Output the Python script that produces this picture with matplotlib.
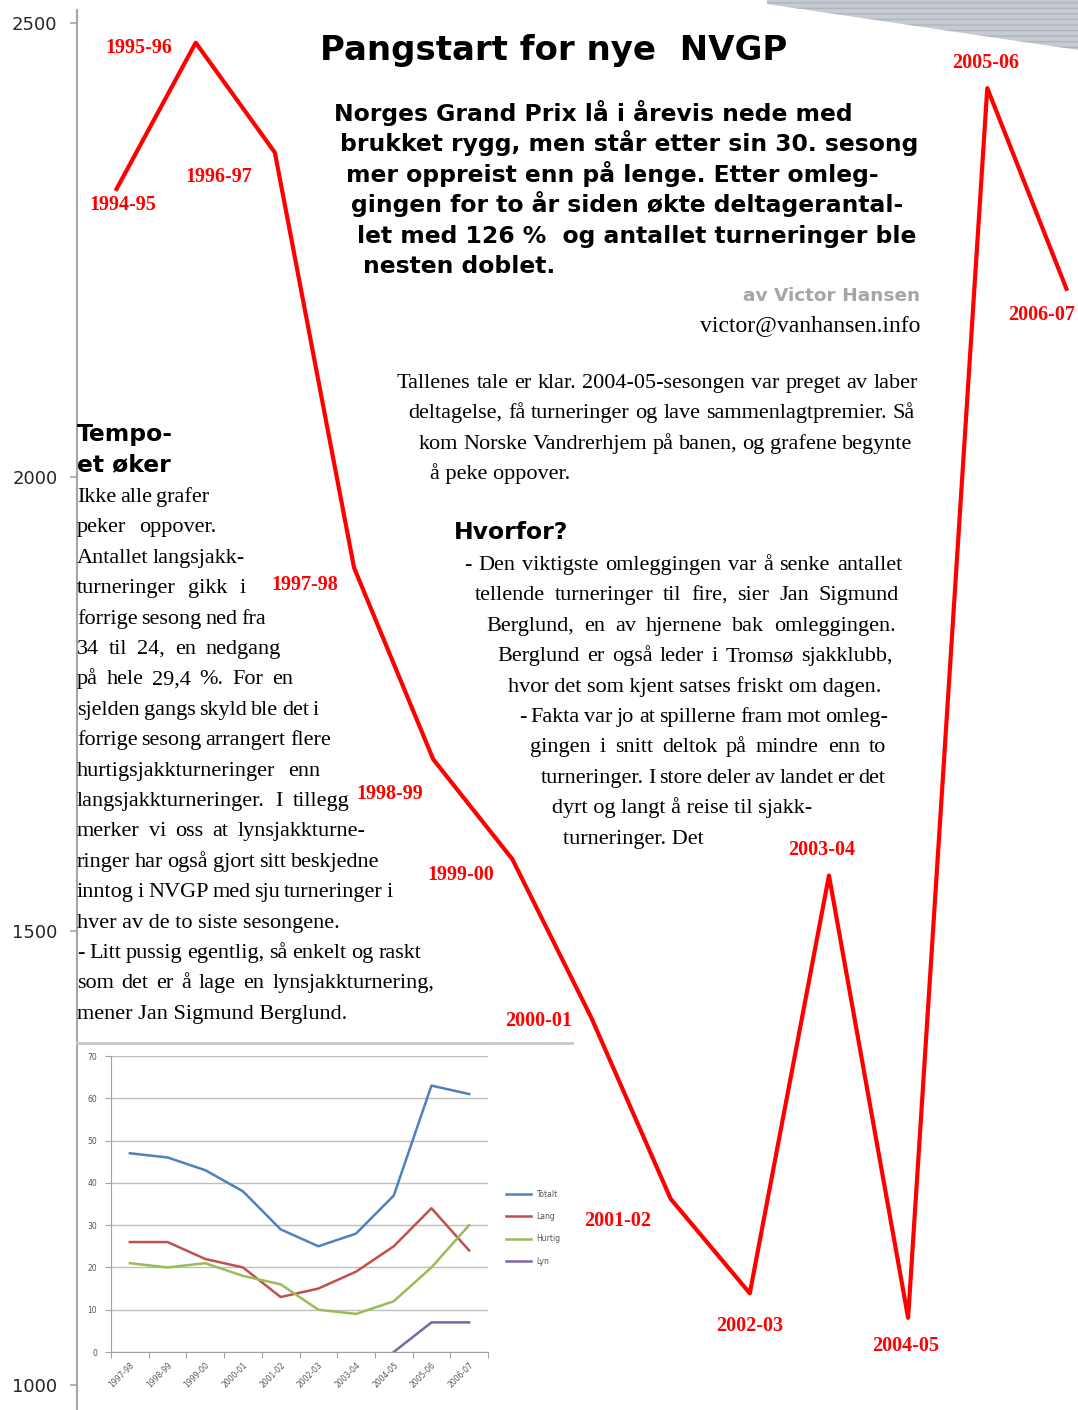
import numpy as np
import matplotlib
matplotlib.use("Agg")
import matplotlib.pyplot as plt
from matplotlib.patches import Polygon
from matplotlib.lines import Line2D

# ---------------------------------------------------------------------------
# Main series: participants in Norges Grand Prix per season
# ---------------------------------------------------------------------------
seasons = ["1994-95", "1995-96", "1996-97", "1997-98", "1998-99", "1999-00",
           "2000-01", "2001-02", "2002-03", "2003-04", "2004-05", "2005-06",
           "2006-07"]
participants = [2317, 2478, 2357, 1900, 1689, 1579, 1404, 1205, 1101, 1561,
                1074, 2428, 2207]
y_ticks = [1000, 1500, 2000, 2500]

# ---------------------------------------------------------------------------
# Inset: number of tournaments per season, by time control
# ---------------------------------------------------------------------------
inset_seasons = ["1997-98", "1998-99", "1999-00", "2000-01", "2001-02",
                 "2002-03", "2003-04", "2004-05", "2005-06", "2006-07"]
totalt = [47, 46, 43, 38, 29, 25, 28, 37, 63, 61]
lang = [26, 26, 22, 20, 13, 15, 19, 25, 34, 24]
hurtig = [21, 20, 21, 18, 16, 10, 9, 12, 20, 30]
lyn = [np.nan] * 7 + [0, 7, 7]
inset_names = ["Totalt", "Lang", "Hurtig", "Lyn"]
inset_ticks = [0, 10, 20, 30, 40, 50, 60, 70]

# ---------------------------------------------------------------------------
# Article text
# ---------------------------------------------------------------------------
title = "Pangstart for nye  NVGP"
ingress = [
    "Norges Grand Prix lå i årevis nede med",
    "brukket rygg, men står etter sin 30. sesong",
    "mer oppreist enn på lenge. Etter omleg-",
    "gingen for to år siden økte deltagerantal-",
    "let med 126 %  og antallet turneringer ble",
    "nesten doblet.",
]
byline = "av Victor Hansen"
email = "victor@vanhansen.info"
intro = [
    "Tallenes tale er klar. 2004-05-sesongen var preget av laber",
    "deltagelse, få turneringer og lave sammenlagtpremier. Så",
    "kom Norske Vandrerhjem på banen, og grafene begynte",
    "å peke oppover.",
]
why_head = "Hvorfor?"
why = [
    "- Den viktigste omleggingen var å senke antallet",
    "tellende turneringer til fire, sier Jan Sigmund",
    "Berglund, en av hjernene bak omleggingen.",
    "Berglund er også leder i Tromsø sjakklubb,",
    "hvor det som kjent satses friskt om dagen.",
    "- Fakta var jo at spillerne fram mot omleg-",
    "gingen i snitt deltok på mindre enn to",
    "turneringer. I store deler av landet er det",
    "dyrt og langt å reise til sjakk-",
    "turneringer. Det",
]
side_head = ["Tempo-", "et øker"]
side = [
    "Ikke alle grafer",
    "peker  oppover.",
    "Antallet langsjakk-",
    "turneringer gikk i",
    "forrige sesong ned fra",
    "34 til 24, en nedgang",
    "på hele 29,4 %. For en",
    "sjelden gangs skyld ble det i",
    "forrige sesong arrangert flere",
    "hurtigsjakkturneringer enn",
    "langsjakkturneringer. I tillegg",
    "merker vi oss at lynsjakkturne-",
    "ringer har også gjort sitt beskjedne",
    "inntog i NVGP med sju turneringer i",
    "hver av de to siste sesongene.",
    "- Litt pussig egentlig, så enkelt og raskt",
    "som det er å lage en lynsjakkturnering,",
    "mener Jan Sigmund Berglund.",
]

# right edges (pixels) of justified lines; None = ragged last line
intro_right = [918, 915, 912, None]
why_right = [902, 899, 896, 893, None, 888, 886, 883, None, None]
side_right = [208, 222, 237, 252, 264, 281, 293, 307, 322, 336, 350, 365,
              379, 392, None, 421, 434, None]

# label offsets (pixels) from each season's point
label_offsets = [(6, -16), (-57, -5), (-56, -24), (-49, -17), (-43, -35),
                 (-52, -16), (-53, -3), (-53, -22), (0, -33), (-7, 26),
                 (-2, -28), (-2, 25), (-25, -26)]

W, H = 1078, 1410
SERIF = "Liberation Serif"
HEAVY = "DejaVu Sans"
BODY = dict(fontsize=16, family=SERIF, color="black")


def px(x, y):
    """Pixel position (from top-left) -> figure fraction."""
    return x / W, 1 - y / H


fig = plt.figure(figsize=(W / 100, H / 100), dpi=100)
fig.patch.set_facecolor("white")
renderer = fig.canvas.get_renderer()


def text_width(s, **kw):
    t = fig.text(0, 0, s, **kw)
    w = t.get_window_extent(renderer).width
    t.remove()
    return w


def set_line(line, x0, x1, y, **kw):
    """Draw one line of body text, spreading words towards x1 if given.

    Word gaps are kept between 0.7 and 2.2 normal spaces so a line never
    collapses or falls apart when the font runs wider than the column.
    """
    words = line.split()
    if x1 is None or len(words) < 2:
        fig.text(*px(x0, y), line, ha="left", va="baseline", **kw)
        return
    space = text_width("a a", **kw) - text_width("aa", **kw)
    widths = [text_width(w, **kw) for w in words]
    gap = (x1 - x0 - sum(widths)) / (len(words) - 1)
    gap = min(max(gap, 0.7 * space), 2.2 * space)
    xpos = x0
    for w, wd in zip(words, widths):
        fig.text(*px(xpos, y), w, ha="left", va="baseline", **kw)
        xpos += wd + gap


# ---- main participant line ----
ax = fig.add_axes([77 / W, 0, (1106 - 77) / W, (H - 10) / H])
x = np.arange(len(seasons))
ax.plot(x, participants, color="#ff0000", lw=3.0, zorder=3)
ax.set_xlim(-0.5, 12.5)
ax.set_ylim(972.5, 2514)
ax.set_yticks(y_ticks)
ax.set_xticks([])
for side_name in ("top", "right", "bottom"):
    ax.spines[side_name].set_visible(False)
ax.spines["left"].set_color("#a6a6a6")
ax.spines["left"].set_linewidth(1.5)
ax.tick_params(axis="y", length=5, width=1.2, color="#a6a6a6",
               labelsize=13, labelcolor="#262626", pad=9)
ax.patch.set_alpha(0)

for xi, val, lab, off in zip(x, participants, seasons, label_offsets):
    ax.annotate(lab, (xi, val), xytext=off, textcoords="offset pixels",
                ha="center", va="center", color="#ff0000", fontsize=14.5,
                fontweight="bold", family=SERIF, zorder=4,
                annotation_clip=False)

# ---- scanned paper corner, top right ----
paper = Polygon([px(767, 0), px(1078, 0), px(1078, 50), px(767, 4)],
                closed=True, transform=fig.transFigure,
                facecolor="#c6cad1", edgecolor="#b0b5bd", hatch="---",
                linewidth=0, zorder=1)
fig.add_artist(paper)

# ---- headline and ingress ----
fig.text(*px(320, 60), title, ha="left", va="baseline", fontsize=24.5,
         fontweight="bold", family=HEAVY)
for k, line in enumerate(ingress):
    fig.text(*px(334 + 5.8 * k, 121 + 30.4 * k), line, ha="left",
             va="baseline", fontsize=16.9, fontweight="bold", family=HEAVY)
fig.text(*px(920, 301), byline, ha="right", va="baseline", fontsize=13.3,
         fontweight="bold", family=HEAVY, color="#a6a6a6")
fig.text(*px(920, 331), email, ha="right", va="baseline", fontsize=17,
         family=SERIF)

for k, (line, right) in enumerate(zip(intro, intro_right)):
    set_line(line, 397 + 11 * k, right, 388 + 30.4 * k, **BODY)

fig.text(*px(454, 539), why_head, ha="left", va="baseline", fontsize=16.9,
         fontweight="bold", family=HEAVY)
for k, (line, right) in enumerate(zip(why, why_right)):
    set_line(line, 464 + 11 * k, right, 570 + 30.4 * k, **BODY)

for k, line in enumerate(side_head):
    fig.text(*px(77, 441 + 30.4 * k), line, ha="left", va="baseline",
             fontsize=16.9, fontweight="bold", family=HEAVY)
for k, (line, right) in enumerate(zip(side, side_right)):
    set_line(line, 77, right, 502 + 30.4 * k, **BODY)

# ---- inset: tournaments per season ----
fig.add_artist(Line2D([77 / W, 572 / W], [1 - 1043 / H] * 2,
                      transform=fig.transFigure, color="#c8c8c8", lw=2))
ax2 = fig.add_axes([111 / W, 1 - 1352 / H, 377 / W, 296 / H])
xi2 = np.arange(len(inset_seasons)) + 0.5
colors = ["#4f81bd", "#c0504d", "#9bbb59", "#8064a2"]
for name, vals, col in zip(inset_names, [totalt, lang, hurtig, lyn], colors):
    ax2.plot(xi2, vals, color=col, lw=1.8, label=name)
ax2.set_xlim(0, 10)
ax2.set_ylim(0, 70)
ax2.set_yticks(inset_ticks)
ax2.set_xticks(np.arange(11))
ax2.set_xticklabels([])
ax2.set_xticks(xi2, minor=True)
ax2.set_xticklabels(inset_seasons, minor=True, rotation=45, ha="right",
                    va="top", rotation_mode="anchor")
ax2.tick_params(axis="x", which="minor", length=0, labelsize=5.5,
                labelcolor="#555555", pad=6)
ax2.tick_params(axis="x", which="major", length=4, color="#a0a0a0")
ax2.tick_params(axis="y", length=4, color="#a0a0a0", labelsize=5.5,
                labelcolor="#555555", pad=6)
ax2.grid(axis="y", color="#bfbfbf", lw=1)
ax2.set_axisbelow(True)
for side_name in ("top", "right"):
    ax2.spines[side_name].set_visible(False)
for side_name in ("left", "bottom"):
    ax2.spines[side_name].set_color("#a0a0a0")
ax2.legend(loc="center left", bbox_to_anchor=(1.03, 0.42), frameon=False,
           fontsize=5.5, handlelength=3.2, labelspacing=1.75,
           labelcolor="#555555")

fig.savefig("out.png", dpi=100, facecolor="white")
